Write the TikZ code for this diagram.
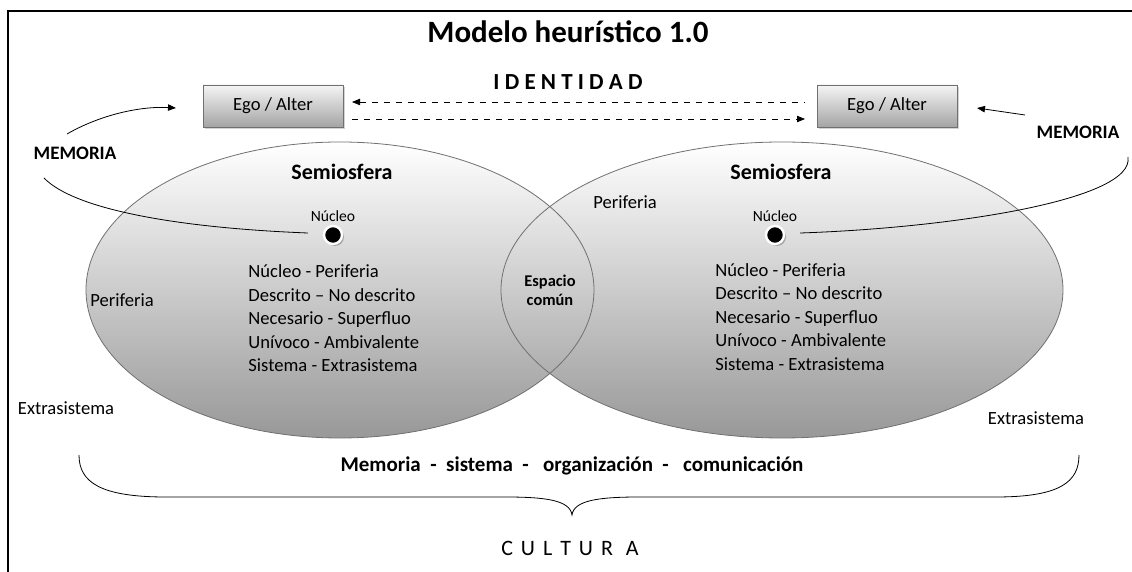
\documentclass[tikz,border=0pt]{standalone}
\usepackage{fontspec}
\setmainfont{Carlito}
\usetikzlibrary{arrows.meta,positioning,shadows}

\definecolor{semigray}{HTML}{989898}
\definecolor{boxgray}{HTML}{A4A4A4}
\definecolor{rimgray}{HTML}{707070}

\begin{document}
\begin{tikzpicture}[x=0.5pt,y=-0.5pt,>={Triangle[length=4pt,width=3.2pt]},
    txt/.style={font=\fontsize{9.3}{11}\selectfont,inner sep=0pt},
    boldtxt/.style={font=\fontsize{#1}{#1}\selectfont\bfseries,inner sep=0pt},
    egobox/.style={draw=rimgray,top color=white!96!black,bottom color=boxgray,minimum width=70pt,minimum height=21pt,
      font=\fontsize{9.3}{11}\selectfont,drop shadow={shadow xshift=1pt,shadow yshift=-1pt,opacity=0.35}},
    nucdot/.style={circle,fill=black,draw=white,line width=1.2pt,minimum size=9pt,inner sep=0pt,
      drop shadow={shadow xshift=1pt,shadow yshift=-1pt,fill=gray!80,opacity=0.8}}]
    \useasboundingbox (0,0) rectangle (1132,572);
    \draw[line width=1pt] (8,572) -- (8,11) -- (1132,11);
    \node[boldtxt=15.5] (title) at (568,32) {Modelo heurístico 1.0};

    % semiosferas
    \shade[top color=white,bottom color=semigray] (340,290) ellipse [x radius=127pt,y radius=74pt];
    \shade[top color=white,bottom color=semigray] (782,290) ellipse [x radius=140.5pt,y radius=74pt];
    \draw[rimgray,thin] (340,290) ellipse [x radius=127pt,y radius=74pt];
    \draw[rimgray,thin] (782,290) ellipse [x radius=140.5pt,y radius=74pt];

    \node[egobox,outer xsep=4.5pt] (egoL) at (273,106) {Ego / Alter};
    \node[egobox,outer xsep=6pt] (egoR) at (887,106) {Ego / Alter};
    \node[boldtxt=11.5] (ident) at (568,82) {I D E N T I D A D};
    \draw[<-,dashed] ([yshift=2pt]egoL.east) -- ([yshift=2pt]egoR.west);
    \draw[->,dashed] ([yshift=-6.5pt]egoL.east) -- ([yshift=-6.5pt]egoR.west);

    \node[nucdot] (nucL) at (333,235) {};
    \node[nucdot] (nucR) at (775,235) {};
    \node[txt,font=\fontsize{7.8}{9}\selectfont,above=1.5pt of nucL] (nucLt) {Núcleo};
    \node[txt,font=\fontsize{7.8}{9}\selectfont,above=1.5pt of nucR] (nucRt) {Núcleo};

    \node[boldtxt=9.5] (memL) at (75,153) {MEMORIA};
    \node[boldtxt=9.5] (memR) at (1078,132) {MEMORIA};
    \coordinate (memLa) at (67,134);
    \coordinate (memLb) at (44,178);
    \coordinate (memRa) at (1025,115);
    \coordinate (memRb) at (1128,157);
    \draw[->] (memLa) .. controls (100,115) and (140,106) .. ([xshift=-9pt,yshift=-1pt]egoL.west);
    \draw (memLb) .. controls (75,210) and (180,228) .. ([xshift=-7.5pt,yshift=1pt]nucL.west);
    \draw[->] (memRa) -- ([xshift=4pt,yshift=-1pt]egoR.east);
    \draw (memRb) .. controls (1135,200) and (950,228) .. ([xshift=7.5pt,yshift=1pt]nucR.east);

    \node[boldtxt=11] (semiL) at (342,172) {Semiosfera};
    \node[boldtxt=11] (semiR) at (781,172) {Semiosfera};
    \node[txt] (periL) at (122,300) {Periferia};
    \node[txt] (periR) at (625,202) {Periferia};
    \node[txt] (extraL) at (66,408) {Extrasistema};
    \node[txt] (extraR) at (1036,418) {Extrasistema};
    \node[align=center,inner sep=0pt,font=\fontsize{8.2}{9.5}\selectfont\bfseries] (comun) at (550,290) {Espacio\\común};

    \foreach \t [count=\i] in {Núcleo - Periferia,Descrito – No descrito,Necesario - Superfluo,Unívoco - Ambivalente,Sistema - Extrasistema} {
      \node[txt,anchor=base west] (parL\i) at (248,254.5+23.5*\i) {\t};
      \node[txt,anchor=base west] (parR\i) at (715,253+23.5*\i) {\t};
    }

    % cultura
    \draw[thin] (79,455) .. controls (79,482) and (100,497) .. (166,497) -- (505,497)
      .. controls (545,497) and (570,500) .. (572,515) .. controls (574,500) and (600,497) .. (640,497)
      -- (996,497) .. controls (1060,497) and (1079,482) .. (1079,455);
    \node[boldtxt=10.5] (lotman) at (572,466) {Memoria\ \ -\ \ sistema\ \ -\ \ \ organización\ \ -\ \ \ comunicación};
    \node[txt,font=\fontsize{11}{13}\selectfont] (cult) at (570,548) {C\ \kern1.5pt U\ \kern1.5pt L\ \kern1.5pt T\ \kern1.5pt U\ \kern1.5pt R\ \ \kern1.5pt A};
\end{tikzpicture}
\end{document}
